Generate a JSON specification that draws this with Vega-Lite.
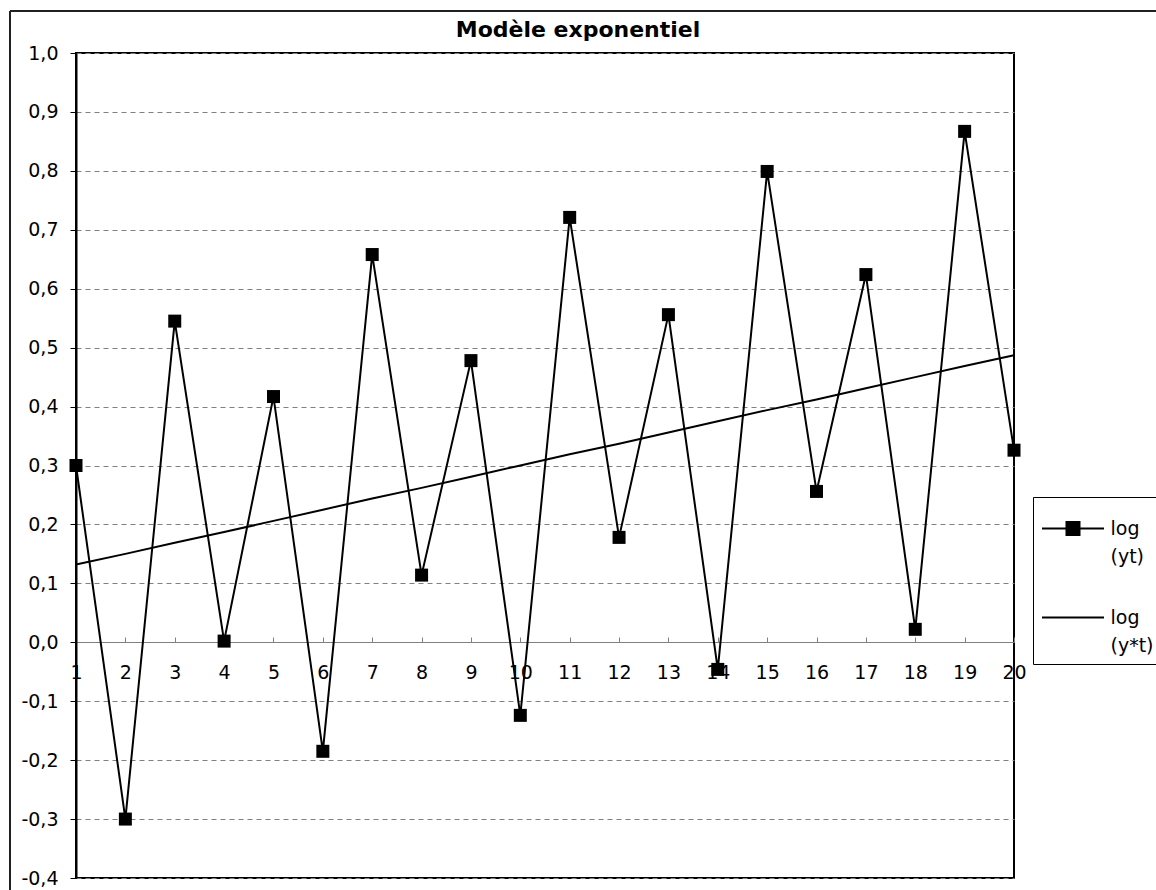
{
  "$schema": "https://vega.github.io/schema/vega-lite/v6.json",
  "width": 938,
  "height": 825,
  "autosize": {"type": "none"},
  "padding": {"left": 76, "top": 53, "right": 142, "bottom": 12},
  "background": "white",
  "title": {"text": "Modèle exponentiel", "font": "DejaVu Sans", "fontSize": 22, "fontWeight": "bold", "color": "black", "anchor": "middle", "frame": "group", "dx": 33, "baseline": "alphabetic", "offset": -49},
  "config": {"view": {"stroke": "black", "strokeWidth": 2}, "font": "DejaVu Sans"},
  "data": {"values": [
    {"t": 1, "series": "log (yt)", "v": 0.300},
    {"t": 2, "series": "log (yt)", "v": -0.300},
    {"t": 3, "series": "log (yt)", "v": 0.545},
    {"t": 4, "series": "log (yt)", "v": 0.002},
    {"t": 5, "series": "log (yt)", "v": 0.417},
    {"t": 6, "series": "log (yt)", "v": -0.185},
    {"t": 7, "series": "log (yt)", "v": 0.658},
    {"t": 8, "series": "log (yt)", "v": 0.114},
    {"t": 9, "series": "log (yt)", "v": 0.478},
    {"t": 10, "series": "log (yt)", "v": -0.124},
    {"t": 11, "series": "log (yt)", "v": 0.721},
    {"t": 12, "series": "log (yt)", "v": 0.178},
    {"t": 13, "series": "log (yt)", "v": 0.556},
    {"t": 14, "series": "log (yt)", "v": -0.046},
    {"t": 15, "series": "log (yt)", "v": 0.799},
    {"t": 16, "series": "log (yt)", "v": 0.256},
    {"t": 17, "series": "log (yt)", "v": 0.624},
    {"t": 18, "series": "log (yt)", "v": 0.022},
    {"t": 19, "series": "log (yt)", "v": 0.867},
    {"t": 20, "series": "log (yt)", "v": 0.326},
    {"t": 1, "series": "log (y*t)", "v": 0.132},
    {"t": 2, "series": "log (y*t)", "v": 0.150},
    {"t": 3, "series": "log (y*t)", "v": 0.169},
    {"t": 4, "series": "log (y*t)", "v": 0.187},
    {"t": 5, "series": "log (y*t)", "v": 0.206},
    {"t": 6, "series": "log (y*t)", "v": 0.225},
    {"t": 7, "series": "log (y*t)", "v": 0.244},
    {"t": 8, "series": "log (y*t)", "v": 0.262},
    {"t": 9, "series": "log (y*t)", "v": 0.281},
    {"t": 10, "series": "log (y*t)", "v": 0.300},
    {"t": 11, "series": "log (y*t)", "v": 0.319},
    {"t": 12, "series": "log (y*t)", "v": 0.337},
    {"t": 13, "series": "log (y*t)", "v": 0.356},
    {"t": 14, "series": "log (y*t)", "v": 0.375},
    {"t": 15, "series": "log (y*t)", "v": 0.394},
    {"t": 16, "series": "log (y*t)", "v": 0.412},
    {"t": 17, "series": "log (y*t)", "v": 0.431},
    {"t": 18, "series": "log (y*t)", "v": 0.450},
    {"t": 19, "series": "log (y*t)", "v": 0.469},
    {"t": 20, "series": "log (y*t)", "v": 0.487}
  ]},
  "layer": [
    {
      "mark": {"type": "line", "strokeWidth": 2},
      "encoding": {
        "x": {"field": "t", "type": "quantitative", "scale": {"domain": [1, 20], "nice": false, "zero": false},
          "axis": {"orient": "bottom", "offset": -236, "values": [1,2,3,4,5,6,7,8,9,10,11,12,13,14,15,16,17,18,19,20], "format": "d", "domainColor": "#808080", "domainWidth": 1, "tickColor": "#808080", "tickSize": -5, "labelPadding": 26, "labelFontSize": 19, "labelFont": "DejaVu Sans", "labelColor": "black", "grid": false, "title": null, "labelFlush": false, "labelOverlap": false}},
        "y": {"field": "v", "type": "quantitative", "scale": {"domain": [-0.4, 1.0], "nice": false, "zero": false},
          "axis": {"values": [-0.4,-0.35,-0.3,-0.25,-0.2,-0.15,-0.1,-0.05,0,0.05,0.1,0.15,0.2,0.25,0.3,0.35,0.4,0.45,0.5,0.55,0.6,0.65,0.7,0.75,0.8,0.85,0.9,0.95,1.0],
            "labelExpr": "abs(datum.value*10 - round(datum.value*10)) < 0.01 ? replace(replace(format(datum.value, '.1f'), '.', ','), '−', '-') : ''",
            "labelOverlap": false, "labelFlush": false,
            "domainColor": "black", "domainWidth": 2, "tickColor": "black",
            "tickSize": {"condition": {"test": "abs(datum.value*10 - round(datum.value*10)) > 0.01", "value": -5}, "value": 6},
            "labelPadding": 12, "labelFontSize": 19, "labelFont": "DejaVu Sans", "labelColor": "black",
            "grid": true, "gridColor": "#808080", "gridDash": [5, 4], "gridWidth": 1,
            "gridOpacity": {"condition": {"test": "abs(datum.value*10 - round(datum.value*10)) > 0.01", "value": 0}, "value": 1},
            "title": null}},
        "color": {"field": "series", "type": "nominal",
          "scale": {"domain": ["log (yt)", "log (y*t)"], "range": ["black", "black"]},
          "legend": {"orient": "none", "legendX": 957, "legendY": 444, "title": null,
            "strokeColor": "black", "fillColor": "white", "padding": 8,
            "symbolType": "stroke", "symbolSize": 2025, "symbolStrokeWidth": 2, "symbolOffset": 8.5,
            "labelFont": "DejaVu Sans", "labelFontSize": 19, "labelColor": "black", "labelOffset": 14, "rowPadding": 27,
            "labelExpr": "split(datum.label, ' ')",
            "encode": {
              "symbols": {"update": {"shape": {"signal": "datum.value === 'log (yt)' ? 'M-1.378,0H1.378M-0.289,-0.289H0.289V0.289H-0.289Z' : 'M-1.378,0H1.378'"}, "fill": {"value": "black"}, "stroke": {"value": "black"}, "strokeWidth": {"value": 2}}},
              "labels": {"update": {"lineHeight": {"value": 28}}}
            }}}
      }
    },
    {
      "transform": [{"filter": "datum.series === 'log (yt)'"}],
      "mark": {"type": "point", "shape": "square", "filled": true, "size": 169, "color": "black", "opacity": 1},
      "encoding": {
        "x": {"field": "t", "type": "quantitative", "scale": {"domain": [1, 20], "nice": false, "zero": false}},
        "y": {"field": "v", "type": "quantitative", "scale": {"domain": [-0.4, 1.0], "nice": false, "zero": false}}
      }
    },
    {
      "mark": {"type": "rule", "color": "#222222", "strokeWidth": 1.5, "clip": false},
      "encoding": {
        "x": {"datum": -0.337, "type": "quantitative", "scale": {"domain": [1, 20], "nice": false, "zero": false}},
        "y": {"datum": 1.0713, "type": "quantitative", "scale": {"domain": [-0.4, 1.0], "nice": false, "zero": false}},
        "y2": {"datum": -0.43}
      }
    },
    {
      "mark": {"type": "rule", "color": "#222222", "strokeWidth": 1.5, "clip": false},
      "encoding": {
        "x": {"datum": -0.337, "type": "quantitative", "scale": {"domain": [1, 20], "nice": false, "zero": false}},
        "x2": {"datum": 23},
        "y": {"datum": 1.0713, "type": "quantitative", "scale": {"domain": [-0.4, 1.0], "nice": false, "zero": false}}
      }
    }
  ]
}
